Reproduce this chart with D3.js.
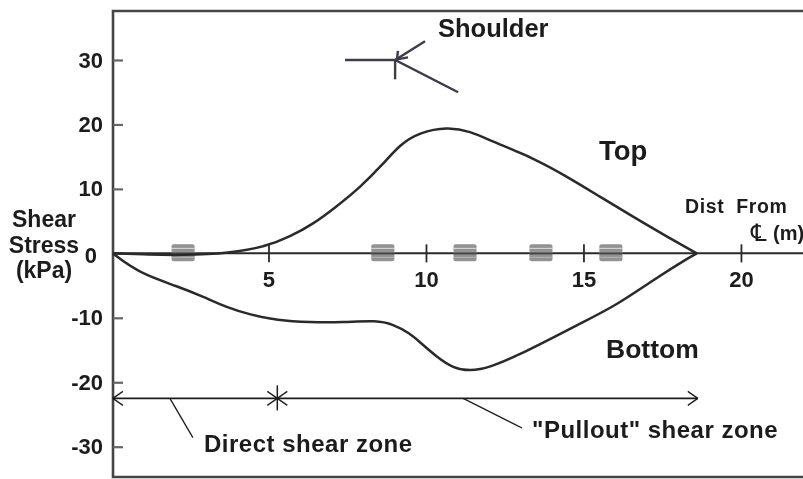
<!DOCTYPE html>
<html>
<head>
<meta charset="utf-8">
<script src="https://cdn.jsdelivr.net/npm/d3@7"></script>
<style>
  html, body { margin: 0; padding: 0; background: #fff; }
  text { font-family: "Liberation Sans", Arial, sans-serif; font-weight: bold; fill: #1c1c1c; }
</style>
</head>
<body>
<div id="container"></div>
<script>
// values: [distance from centreline (m), shear stress (kPa)]
const topCurve = [[0.06, 0], [1.24, -0.2], [2.19, -0.3], [3.78, 0], [4.95, 1.1], [5.68, 2.6], [6.41, 4.5], [7.17, 7.3], [7.9, 10.2], [8.63, 13.8], [9.17, 16.9], [9.81, 18.8], [10.67, 19.6], [11.4, 19], [12.13, 17.3], [13.4, 14.8], [14.48, 11.9], [15.52, 8.8], [16.57, 5.7], [17.65, 2.6], [18.6, 0]];
const bottomCurve = [[0.06, 0], [0.29, -0.9], [1.02, -3.3], [2.1, -5.1], [2.92, -6.7], [3.68, -8.4], [4.41, -9.5], [5.27, -10.4], [6.32, -10.7], [7.37, -10.7], [8.44, -10.4], [8.95, -11], [9.49, -12.4], [9.81, -13.8], [10.35, -16.1], [10.86, -17.8], [11.4, -18.3], [12.03, -17.7], [12.89, -15.9], [13.94, -13.3], [14.98, -10.7], [16.06, -8], [17.11, -4.5], [18.16, -1.2], [18.6, 0]];
const yTicks = [30, 20, 10, 0, -10, -20, -30];
const xTicks = [5, 10, 15, 20];
const bandPositions = [2.29, 8.63, 11.24, 13.65, 15.87];
const shoulderLines = [
  [[7.43, 30], [9.02, 30], [11.02, 25]],
  [[9.02, 30], [9.02, 27]],
  [[9.02, 30], [9.97, 32.9]],
  [[9.11, 31.4], [9.08, 30.1], [9.43, 30.4]]
];
const zoneY = -22.5;
const zoneStops = [0.06, 5.28, 18.63];
const leaders = [
  [[1.87, -22.5], [2.6, -28.6]],
  [[11.18, -22.5], [13.05, -27.1]]
];
const axisTitle = ['Shear', 'Stress', '(kPa)'];

const width = 803;
const height = 479;
const ink = '#2a2a2a';
const frameLeft = 113;
const frameTop = 11;
const frameBottom = 477;

const x = d3.scaleLinear().domain([0, 21.97]).range([111, 803]);
const y = d3.scaleLinear().domain([37.6, -34.7]).range([frameTop, frameBottom]);

const svg = d3.select('#container').append('svg')
  .attr('width', width)
  .attr('height', height)
  .style('display', 'block');

//>>> the source is a blurry scan
const defs = svg.append('defs');
defs.append('filter').attr('id', 'scan')
  .append('feGaussianBlur').attr('stdDeviation', 0.55);

const g = svg.append('g').attr('filter', 'url(#scan)');

g.append('rect').attr('width', width).attr('height', height).attr('fill', '#fff');

//>>> frame: top, left, bottom
g.append('path')
  .attr('d', `M${width},${frameTop}H${frameLeft}V${frameBottom}H${width}`)
  .attr('fill', 'none')
  .attr('stroke', '#444')
  .attr('stroke-width', 2.6);

//>>> y axis
const yAxis = g.append('g')
  .attr('transform', `translate(${frameLeft},0)`)
  .call(d3.axisLeft(y).tickValues(yTicks).tickSize(-10).tickPadding(10).tickFormat(d => d));
yAxis.select('.domain').remove();
yAxis.selectAll('line').attr('stroke', '#666').attr('stroke-width', 2.2);
yAxis.selectAll('text').style('font-size', '22px').attr('text-anchor', 'end');
//::::: the zero label sits a little further left and lower
yAxis.selectAll('text').filter(d => d === 0).attr('x', -16).attr('y', 2);

//>>> x axis sits on zero stress
const xAxis = g.append('g')
  .attr('transform', `translate(0,${y(0)})`)
  .call(d3.axisBottom(x).tickValues(xTicks).tickSize(9).tickPadding(9));
xAxis.select('.domain').attr('d', `M${frameLeft},0H${width}`).attr('stroke', ink).attr('stroke-width', 2);
xAxis.selectAll('line').attr('y1', -9).attr('stroke', ink).attr('stroke-width', 1.8);
xAxis.selectAll('text').style('font-size', '22px');

//>>> reinforcement bands on the axis
bandPositions.forEach(d => {
  g.append('rect')
    .attr('x', x(d) - 11.5).attr('y', y(0) - 9)
    .attr('width', 23).attr('height', 17)
    .attr('rx', 2)
    .attr('fill', '#777').attr('opacity', 0.8);
  [-5, -1, 4].forEach((off, i) => {
    g.append('line')
      .attr('x1', x(d) - 11.5).attr('x2', x(d) + 11.5)
      .attr('y1', y(0) + off).attr('y2', y(0) + off)
      .attr('stroke', i === 0 ? '#ddd' : '#b5b5b5').attr('stroke-width', 1);
  });
  g.append('line')
    .attr('x1', x(d) - 11.5).attr('x2', x(d) + 11.5)
    .attr('y1', y(0)).attr('y2', y(0))
    .attr('stroke', '#444').attr('stroke-width', 2);
});

//>>> curves
const curve = d3.line().x(d => x(d[0])).y(d => y(d[1])).curve(d3.curveBasis);
[topCurve, bottomCurve].forEach(d => {
  g.append('path')
    .attr('d', curve(d))
    .attr('fill', 'none')
    .attr('stroke', ink)
    .attr('stroke-width', 2.5);
});

//>>> shoulder sketch
const straight = d3.line().x(d => x(d[0])).y(d => y(d[1]));
shoulderLines.forEach(d => {
  g.append('path')
    .attr('d', straight(d))
    .attr('fill', 'none')
    .attr('stroke', '#3c3c4a')
    .attr('stroke-width', 2.4);
});

//>>> zone dimension lines
g.append('line')
  .attr('x1', x(zoneStops[0])).attr('x2', x(zoneStops[2]))
  .attr('y1', y(zoneY)).attr('y2', y(zoneY))
  .attr('stroke', '#1c1c1c').attr('stroke-width', 1.6);
const arrowHead = (at, dir) => {
  [-1, 1].forEach(s => {
    g.append('line')
      .attr('x1', x(at)).attr('y1', y(zoneY))
      .attr('x2', x(at) + dir * 10).attr('y2', y(zoneY) + s * 7)
      .attr('stroke', '#1c1c1c').attr('stroke-width', 1.3);
  });
};
arrowHead(zoneStops[0], 1);
arrowHead(zoneStops[1], -1);
arrowHead(zoneStops[1], 1);
arrowHead(zoneStops[2], -1);
g.append('line')
  .attr('x1', x(zoneStops[1])).attr('x2', x(zoneStops[1]))
  .attr('y1', y(zoneY) - 13).attr('y2', y(zoneY) + 12)
  .attr('stroke', '#1c1c1c').attr('stroke-width', 1.5);

leaders.forEach(d => {
  g.append('path')
    .attr('d', straight(d))
    .attr('stroke', '#1c1c1c').attr('stroke-width', 1.3);
});

//>>> labels
const label = (t, px, py, size, spacing) => g.append('text')
  .attr('x', px)
  .attr('y', py)
  .style('font-size', size + 'px')
  .style('letter-spacing', (spacing || 0) + 'px')
  .style('white-space', 'pre')
  .text(t);

label('Shoulder', 438, 37, 25.5);
label('Top', 599, 160, 27.5);
label('Bottom', 606, 358, 26.5);
label('Dist  From', 685, 213, 19.5, 0.6);
label('(m)', 773, 240, 20);
label('Direct shear zone', 204, 452, 24, 0.5);
label('"Pullout" shear zone', 532, 438, 24, 0.5);

//::::: centreline symbol
g.append('text')
  .attr('x', 751).attr('y', 241)
  .style('font-family', '"DejaVu Sans"')
  .style('font-weight', 'normal')
  .style('font-size', '24px')
  .text('\u2104');

//>>> y axis title
g.selectAll('.title')
  .data(axisTitle)
  .enter()
  .append('text')
  .attr('class', 'title')
  .attr('x', 44)
  .attr('y', (d, i) => 227 + i * 25.5)
  .attr('text-anchor', 'middle')
  .style('font-size', '23px')
  .text(d => d);
</script>
</body>
</html>
